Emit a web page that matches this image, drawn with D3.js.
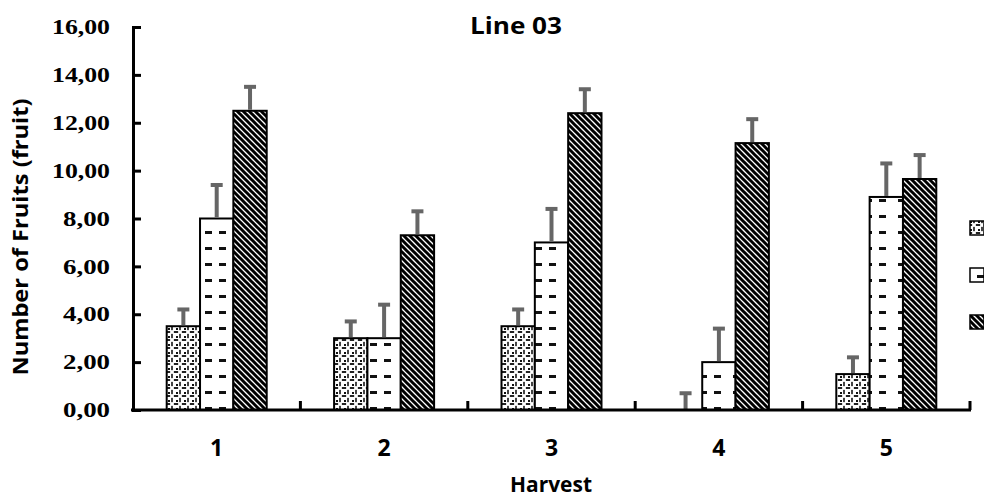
<!DOCTYPE html>
<html>
<head>
  <meta charset="utf-8"><script src="https://d3js.org/d3.v7.min.js"></script>
</head>
<body style="margin:0" onload="execute()">
  <svg id="mychart" width="984" height="500" style="background: white"></svg>
</body>
<script>
  // values
  const harvests = ["1", "2", "3", "4", "5"]
  const seriesNames = ["A", "B", "C"]
  const seriesA = [3.5, 3.0, 3.5, 0.0, 1.5]
  const seriesB = [8.0, 3.0, 7.0, 2.0, 8.9]
  const seriesC = [12.5, 7.3, 12.4, 11.15, 9.65]
  const errA = [0.7, 0.7, 0.7, 0.7, 0.7]
  const errB = [1.4, 1.4, 1.4, 1.4, 1.4]
  const errC = [1.0, 1.0, 1.0, 1.0, 1.0]
  const yTicks = [0, 2, 4, 6, 8, 10, 12, 14, 16]

  function execute() {
    const width = 984, height = 500
    const margin = {top: 27, right: 14, bottom: 90, left: 133}

    const values = [seriesA, seriesB, seriesC]
    const errs = [errA, errB, errC]
    const data = []
    harvests.forEach((h, i) => values.forEach((v, s) =>
      data.push({harvest: h, series: seriesNames[s], s, value: v[i], err: errs[s][i]})))

    const x = d3.scaleBand().domain(harvests).range([margin.left, width - margin.right])
    const xs = d3.scaleBand().domain(seriesNames).range([0, 100]).padding(0)
    const y = d3.scaleLinear().domain([0, 16]).range([height - margin.bottom, margin.top])

    const svg = d3.select("#mychart")
    const defs = svg.append("defs")

    // lattice pattern
    const p1 = defs.append("pattern").attr("id", "pA").attr("patternUnits", "userSpaceOnUse")
      .attr("width", 8).attr("height", 8)
    p1.append("rect").attr("width", 8).attr("height", 8).attr("fill", "white")
    p1.append("rect").attr("x", 0).attr("y", 3).attr("width", 8).attr("height", 2).attr("fill", "#222")
    p1.append("rect").attr("x", 3).attr("y", 0).attr("width", 2).attr("height", 8).attr("fill", "#444")
    p1.append("circle").attr("cx", 4).attr("cy", 4).attr("r", 2).attr("fill", "white")
    p1.append("rect").attr("x", 0).attr("y", 0).attr("width", 2).attr("height", 2).attr("fill", "#111")

    // dashes pattern
    const p2 = defs.append("pattern").attr("id", "pB").attr("patternUnits", "userSpaceOnUse")
      .attr("width", 33).attr("height", 16).attr("x", 0).attr("y", 1)
    p2.append("rect").attr("width", 33).attr("height", 16).attr("fill", "white")
    p2.append("rect").attr("x", 7).attr("y", 6).attr("width", 7).attr("height", 3).attr("fill", "#111")
    p2.append("rect").attr("x", 21).attr("y", 6).attr("width", 7).attr("height", 3).attr("fill", "#111")

    // diagonal stripes pattern
    const p3 = defs.append("pattern").attr("id", "pC").attr("patternUnits", "userSpaceOnUse")
      .attr("width", 6).attr("height", 6)
    p3.append("rect").attr("width", 6).attr("height", 6).attr("fill", "white")
    p3.append("path").attr("d", "M-1,-1 L7,7 M-4,2 L4,10 M2,-4 L10,4")
      .attr("stroke", "black").attr("stroke-width", 3)

    const fills = ["url(#pA)", "url(#pB)", "url(#pC)"]
    const bx = d => x(d.harvest) + x.bandwidth() / 2 - 50 + xs(d.series)

    // bars
    svg.append("g").selectAll("rect").data(data).join("rect")
      .attr("x", bx)
      .attr("y", d => y(d.value))
      .attr("width", xs.bandwidth())
      .attr("height", d => y(0) - y(d.value))
      .attr("fill", d => fills[d.s])
      .attr("stroke", "black")
      .attr("stroke-width", 2)

    // error bars
    const eb = svg.append("g").attr("stroke", "#666").attr("stroke-width", 4)
    eb.selectAll("line.v").data(data).join("line").attr("class", "v")
      .attr("x1", d => bx(d) + xs.bandwidth() / 2)
      .attr("x2", d => bx(d) + xs.bandwidth() / 2)
      .attr("y1", d => y(d.value) - 1)
      .attr("y2", d => y(d.value + d.err))
    eb.selectAll("line.c").data(data).join("line").attr("class", "c")
      .attr("x1", d => bx(d) + xs.bandwidth() / 2 - 6)
      .attr("x2", d => bx(d) + xs.bandwidth() / 2 + 6)
      .attr("y1", d => y(d.value + d.err))
      .attr("y2", d => y(d.value + d.err))

    // y axis
    const yAxis = svg.append("g").attr("transform", `translate(${margin.left},0)`)
      .call(d3.axisRight(y).tickValues(yTicks).tickSize(8).tickSizeOuter(8).tickFormat(d => d3.format(".2f")(d).replace(".", ",")))
    yAxis.select(".domain").attr("stroke-width", 3)
    yAxis.selectAll(".tick line").attr("stroke-width", 3)
    yAxis.selectAll(".tick text")
      .attr("x", -23).attr("text-anchor", "end")
      .attr("font-family", "Liberation Serif").attr("font-weight", "bold").attr("font-size", 21)
      .attr("fill", "black")
      .attr("textLength", d => d >= 10 ? 58 : 47).attr("lengthAdjust", "spacingAndGlyphs")

    // x axis
    const xAxis = svg.append("g").attr("transform", `translate(0,${y(0)})`)
    xAxis.append("line").attr("x1", margin.left - 2).attr("x2", width - margin.right + 1)
      .attr("stroke", "black").attr("stroke-width", 3)
    const bounds = harvests.map(h => x(h)).concat([x(harvests[harvests.length - 1]) + x.bandwidth()])
    xAxis.selectAll("line.tk").data(bounds.slice(1)).join("line").attr("class", "tk")
      .attr("x1", d => d).attr("x2", d => d).attr("y1", 0).attr("y2", -9)
      .attr("stroke", "black").attr("stroke-width", 3)
    xAxis.selectAll("text").data(harvests).join("text")
      .attr("x", d => x(d) + x.bandwidth() / 2).attr("y", 46)
      .attr("text-anchor", "middle")
      .attr("font-family", "Open Sans").attr("font-weight", "bold").attr("font-size", 23)
      .text(d => d)

    // titles
    svg.append("text").attr("x", 516).attr("y", 34).attr("text-anchor", "middle")
      .attr("font-family", "Open Sans").attr("font-weight", "bold").attr("font-size", 24)
      .attr("textLength", 92).attr("lengthAdjust", "spacingAndGlyphs")
      .text("Line 03")
    svg.append("text").attr("x", 551).attr("y", 492).attr("text-anchor", "middle")
      .attr("font-family", "Open Sans").attr("font-weight", "bold").attr("font-size", 22)
      .attr("textLength", 82).attr("lengthAdjust", "spacingAndGlyphs")
      .text("Harvest")
    svg.append("text").attr("transform", `translate(28,237) rotate(-90)`)
      .attr("text-anchor", "middle")
      .attr("font-family", "Open Sans").attr("font-weight", "bold").attr("font-size", 21)
      .attr("textLength", 277).attr("lengthAdjust", "spacingAndGlyphs")
      .text("Number of Fruits (fruit)")

    // legend (cut off at the right edge)
    const legend = svg.append("g").selectAll("g").data(seriesNames).join("g")
      .attr("transform", (d, i) => `translate(970,${221 + i * 47})`)
    legend.append("rect").attr("width", 14).attr("height", 14)
      .attr("fill", (d, i) => fills[i]).attr("stroke", "black").attr("stroke-width", 1.5)
  }
</script>
</html>
